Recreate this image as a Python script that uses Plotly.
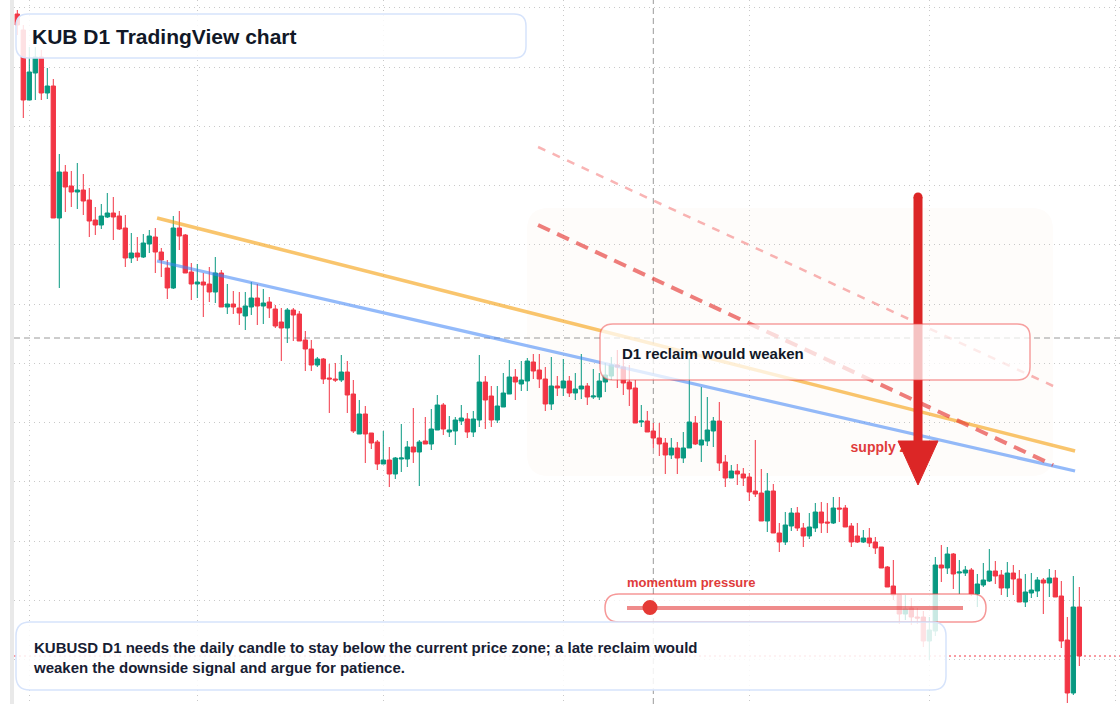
import pandas as pd
import plotly.graph_objects as go

# ---------------- data (KUBUSD daily candles) ----------------
dates = pd.date_range("2025-01-30", periods=178, freq="D")

opens = [
    1.986, 1.970, 1.900, 1.927, 1.943, 1.907, 1.914, 1.782, 1.828, 1.814,
    1.808, 1.810, 1.800, 1.780, 1.775, 1.783, 1.787, 1.784, 1.772, 1.742,
    1.747, 1.743, 1.756, 1.763, 1.748, 1.732, 1.712, 1.772, 1.765, 1.728,
    1.716, 1.718, 1.716, 1.708, 1.727, 1.693, 1.696, 1.692, 1.684, 1.693,
    1.702, 1.694, 1.698, 1.691, 1.678, 1.672, 1.690, 1.686, 1.660, 1.651,
    1.635, 1.641, 1.622, 1.621, 1.620, 1.628, 1.606, 1.566, 1.586, 1.567,
    1.558, 1.536, 1.540, 1.526, 1.541, 1.541, 1.553, 1.548, 1.559, 1.556,
    1.570, 1.595, 1.568, 1.569, 1.579, 1.581, 1.568, 1.580, 1.618, 1.604,
    1.580, 1.593, 1.606, 1.623, 1.616, 1.619, 1.638, 1.630, 1.621, 1.596,
    1.614, 1.612, 1.619, 1.607, 1.611, 1.614, 1.603, 1.603, 1.618, 1.624,
    1.635, 1.633, 1.618, 1.612, 1.578, 1.579, 1.569, 1.562, 1.557, 1.545,
    1.552, 1.542, 1.552, 1.577, 1.555, 1.559, 1.569, 1.579, 1.538, 1.522,
    1.529, 1.526, 1.523, 1.509, 1.507, 1.479, 1.509, 1.467, 1.458, 1.474,
    1.487, 1.472, 1.464, 1.472, 1.488, 1.478, 1.477, 1.492, 1.492, 1.474,
    1.464, 1.458, 1.462, 1.458, 1.453, 1.433, 1.414, 1.405, 1.386, 1.392,
    1.383, 1.383, 1.359, 1.369, 1.435, 1.432, 1.446, 1.427, 1.427, 1.430,
    1.406, 1.415, 1.419, 1.429, 1.425, 1.412, 1.427, 1.421, 1.398, 1.407,
    1.409, 1.420, 1.417, 1.422, 1.404, 1.360, 1.307, 1.393,
]
highs = [
    1.990, 1.975, 1.953, 1.953, 1.950, 1.932, 1.921, 1.846, 1.835, 1.829,
    1.837, 1.826, 1.812, 1.793, 1.796, 1.807, 1.803, 1.789, 1.785, 1.767,
    1.763, 1.766, 1.770, 1.772, 1.752, 1.740, 1.784, 1.789, 1.766, 1.737,
    1.736, 1.727, 1.733, 1.743, 1.730, 1.716, 1.709, 1.708, 1.708, 1.718,
    1.716, 1.711, 1.703, 1.695, 1.692, 1.692, 1.692, 1.689, 1.669, 1.660,
    1.643, 1.642, 1.636, 1.637, 1.645, 1.639, 1.620, 1.600, 1.594, 1.567,
    1.560, 1.569, 1.553, 1.543, 1.576, 1.559, 1.592, 1.560, 1.583, 1.591,
    1.605, 1.597, 1.584, 1.583, 1.595, 1.587, 1.589, 1.645, 1.624, 1.614,
    1.614, 1.627, 1.640, 1.631, 1.639, 1.642, 1.646, 1.646, 1.633, 1.643,
    1.624, 1.641, 1.624, 1.627, 1.646, 1.617, 1.631, 1.627, 1.637, 1.643,
    1.650, 1.643, 1.635, 1.620, 1.595, 1.589, 1.577, 1.577, 1.562, 1.562,
    1.558, 1.568, 1.642, 1.584, 1.613, 1.603, 1.583, 1.598, 1.545, 1.535,
    1.536, 1.532, 1.527, 1.560, 1.531, 1.527, 1.516, 1.477, 1.488, 1.492,
    1.493, 1.477, 1.487, 1.497, 1.498, 1.497, 1.503, 1.503, 1.495, 1.477,
    1.477, 1.470, 1.472, 1.463, 1.453, 1.434, 1.440, 1.405, 1.405, 1.402,
    1.392, 1.389, 1.383, 1.443, 1.455, 1.453, 1.447, 1.440, 1.434, 1.432,
    1.426, 1.437, 1.451, 1.439, 1.430, 1.438, 1.435, 1.430, 1.426, 1.427,
    1.423, 1.422, 1.431, 1.430, 1.419, 1.383, 1.424, 1.413,
]
lows = [
    1.965, 1.882, 1.900, 1.900, 1.900, 1.901, 1.782, 1.712, 1.788, 1.793,
    1.791, 1.785, 1.763, 1.765, 1.771, 1.782, 1.760, 1.770, 1.733, 1.737,
    1.739, 1.742, 1.747, 1.727, 1.723, 1.701, 1.711, 1.750, 1.727, 1.700,
    1.702, 1.683, 1.698, 1.697, 1.693, 1.686, 1.686, 1.675, 1.670, 1.685,
    1.675, 1.676, 1.682, 1.672, 1.639, 1.657, 1.659, 1.659, 1.629, 1.629,
    1.633, 1.616, 1.587, 1.618, 1.618, 1.587, 1.567, 1.566, 1.537, 1.551,
    1.530, 1.536, 1.513, 1.521, 1.528, 1.533, 1.537, 1.514, 1.556, 1.550,
    1.570, 1.565, 1.563, 1.555, 1.575, 1.562, 1.563, 1.573, 1.571, 1.573,
    1.577, 1.593, 1.606, 1.600, 1.609, 1.609, 1.621, 1.612, 1.589, 1.590,
    1.604, 1.604, 1.603, 1.600, 1.601, 1.595, 1.601, 1.600, 1.608, 1.620,
    1.612, 1.605, 1.594, 1.577, 1.573, 1.568, 1.552, 1.544, 1.526, 1.541,
    1.526, 1.537, 1.552, 1.555, 1.538, 1.554, 1.553, 1.529, 1.513, 1.522,
    1.515, 1.514, 1.499, 1.503, 1.479, 1.468, 1.467, 1.448, 1.455, 1.469,
    1.469, 1.453, 1.461, 1.468, 1.467, 1.467, 1.476, 1.478, 1.473, 1.453,
    1.457, 1.457, 1.453, 1.446, 1.432, 1.413, 1.400, 1.376, 1.380, 1.375,
    1.376, 1.353, 1.340, 1.364, 1.418, 1.426, 1.411, 1.406, 1.424, 1.404,
    1.393, 1.413, 1.418, 1.416, 1.405, 1.403, 1.405, 1.398, 1.393, 1.402,
    1.403, 1.386, 1.403, 1.403, 1.352, 1.297, 1.305, 1.334,
]
closes = [
    1.975, 1.900, 1.928, 1.943, 1.907, 1.914, 1.782, 1.828, 1.813, 1.808,
    1.810, 1.799, 1.779, 1.775, 1.784, 1.787, 1.783, 1.771, 1.742, 1.747,
    1.743, 1.757, 1.764, 1.748, 1.740, 1.712, 1.772, 1.764, 1.727, 1.716,
    1.718, 1.715, 1.708, 1.727, 1.693, 1.696, 1.693, 1.687, 1.694, 1.702,
    1.694, 1.697, 1.692, 1.674, 1.672, 1.690, 1.685, 1.659, 1.651, 1.635,
    1.641, 1.621, 1.621, 1.620, 1.628, 1.605, 1.569, 1.586, 1.566, 1.557,
    1.536, 1.540, 1.526, 1.542, 1.542, 1.553, 1.548, 1.558, 1.556, 1.571,
    1.595, 1.571, 1.570, 1.580, 1.582, 1.568, 1.581, 1.618, 1.600, 1.580,
    1.594, 1.607, 1.623, 1.618, 1.620, 1.639, 1.629, 1.621, 1.596, 1.614,
    1.612, 1.619, 1.607, 1.611, 1.614, 1.603, 1.604, 1.619, 1.625, 1.635,
    1.633, 1.617, 1.611, 1.577, 1.579, 1.568, 1.562, 1.556, 1.545, 1.552,
    1.542, 1.552, 1.578, 1.556, 1.560, 1.570, 1.579, 1.537, 1.522, 1.529,
    1.526, 1.522, 1.508, 1.506, 1.479, 1.509, 1.467, 1.458, 1.475, 1.487,
    1.472, 1.464, 1.473, 1.488, 1.477, 1.477, 1.492, 1.491, 1.473, 1.458,
    1.458, 1.462, 1.457, 1.452, 1.432, 1.413, 1.405, 1.386, 1.391, 1.383,
    1.382, 1.359, 1.370, 1.435, 1.432, 1.446, 1.426, 1.428, 1.430, 1.406,
    1.416, 1.420, 1.429, 1.424, 1.412, 1.427, 1.421, 1.398, 1.408, 1.410,
    1.420, 1.417, 1.422, 1.403, 1.359, 1.307, 1.393, 1.344,
]

# chart drawings (dates / prices)
orange_trend = (["2025-02-22 07:00", "2025-07-25 07:00"], [1.782, 1.549])
blue_trend = (["2025-02-22 07:00", "2025-07-25 07:00"], [1.739, 1.529])
red_channel_low = (["2025-04-26 19:00", "2025-07-21 15:00"], [1.775, 1.535])
red_channel_high = (["2025-04-26 19:00", "2025-07-21 15:00"], [1.853, 1.614])
crosshair_price = 1.662
crosshair_date = "2025-05-16"
last_price = closes[-1]
grid_prices = [1.9922, 1.9330, 1.8737, 1.8145, 1.7552, 1.6960,
               1.6368, 1.5775, 1.5183, 1.4590, 1.3998, 1.3406]

GREEN = "#089981"
RED = "#f23645"
FONT = "Liberation Sans, Arial, sans-serif"

# ---------------- layout helpers (pixel -> paper) ----------------
W, H, LM = 1120, 704, 14


def fx(x):
    return (x - LM) / (W - LM)


def fy(y):
    return 1 - y / H


def rrect(x0, y0, x1, y1, r):
    pts = [
        f"M{fx(x0 + r)},{fy(y0)}",
        f"L{fx(x1 - r)},{fy(y0)}",
        f"Q{fx(x1)},{fy(y0)} {fx(x1)},{fy(y0 + r)}",
        f"L{fx(x1)},{fy(y1 - r)}",
        f"Q{fx(x1)},{fy(y1)} {fx(x1 - r)},{fy(y1)}",
        f"L{fx(x0 + r)},{fy(y1)}",
        f"Q{fx(x0)},{fy(y1)} {fx(x0)},{fy(y1 - r)}",
        f"L{fx(x0)},{fy(y0 + r)}",
        f"Q{fx(x0)},{fy(y0)} {fx(x0 + r)},{fy(y0)}",
        "Z",
    ]
    return " ".join(pts)


fig = go.Figure()

# trend lines (under candles)
fig.add_trace(go.Scatter(x=orange_trend[0], y=orange_trend[1], mode="lines",
                         line=dict(color="rgba(245,158,11,0.6)", width=3.5),
                         hoverinfo="skip", showlegend=False))
fig.add_trace(go.Scatter(x=blue_trend[0], y=blue_trend[1], mode="lines",
                         line=dict(color="rgba(59,130,246,0.55)", width=3.2),
                         hoverinfo="skip", showlegend=False))
fig.add_trace(go.Scatter(x=red_channel_low[0], y=red_channel_low[1], mode="lines",
                         line=dict(color="rgba(229,57,53,0.65)", width=4, dash="13px,8px"),
                         hoverinfo="skip", showlegend=False))
fig.add_trace(go.Scatter(x=red_channel_high[0], y=red_channel_high[1], mode="lines",
                         line=dict(color="rgba(239,68,68,0.4)", width=2.5, dash="8px,8px"),
                         hoverinfo="skip", showlegend=False))

fig.add_trace(go.Candlestick(
    x=dates, open=opens, high=highs, low=lows, close=closes,
    increasing=dict(line=dict(color=GREEN, width=1), fillcolor=GREEN),
    decreasing=dict(line=dict(color=RED, width=1), fillcolor=RED),
    whiskerwidth=0, hoverinfo="skip", showlegend=False,
))

# supply zone label (sits under the arrow head)
fig.add_trace(go.Scatter(
    x=["2025-06-17 21:00"], y=[1.552], mode="text",
    text=["<b>supply zone</b>"], textposition="middle right",
    textfont=dict(size=14, color="#e03b3b", family=FONT),
    hoverinfo="skip", showlegend=False,
))

shapes = []
# left edge strip
shapes.append(dict(type="rect", xref="paper", yref="paper", x0=fx(10), x1=fx(14),
                   y0=0, y1=1, fillcolor="#e9e9e9", line=dict(width=0), layer="above"))
# shaded zone
shapes.append(dict(type="path", xref="paper", yref="paper", path=rrect(527, 208, 1053, 476, 22),
                   fillcolor="#fefcfa", line=dict(width=0), layer="between"))
# crosshair
shapes.append(dict(type="line", xref="paper", yref="y", x0=0, x1=1,
                   y0=crosshair_price, y1=crosshair_price,
                   line=dict(color="#9a9a9a", width=1, dash="6px,4px"), layer="between"))
shapes.append(dict(type="line", xref="x", yref="paper", x0=crosshair_date, x1=crosshair_date,
                   y0=0, y1=1, line=dict(color="#9a9a9a", width=1, dash="6px,4px"), layer="between"))
# last price line
shapes.append(dict(type="line", xref="paper", yref="y", x0=0, x1=1,
                   y0=last_price, y1=last_price,
                   line=dict(color=RED, width=1, dash="2px,3px"), layer="between"))
# big arrow
shapes.append(dict(type="line", xref="paper", yref="paper", x0=fx(918), x1=fx(918),
                   y0=fy(197), y1=fy(445), line=dict(color="#dc2626", width=9), layer="above"))
shapes.append(dict(type="circle", xref="paper", yref="paper", x0=fx(913.5), x1=fx(922.5),
                   y0=fy(192.5), y1=fy(201.5), fillcolor="#dc2626", line=dict(width=0), layer="above"))
shapes.append(dict(type="path", xref="paper", yref="paper",
                   path=f"M{fx(898)},{fy(441)} L{fx(938)},{fy(441)} L{fx(918)},{fy(485)} Z",
                   fillcolor="#dc2626", line=dict(color="#dc2626", width=1), layer="above"))
# title box
shapes.append(dict(type="path", xref="paper", yref="paper", path=rrect(16, 14, 526, 58, 12),
                   fillcolor="rgba(255,255,255,0.85)", line=dict(color="#d6e3fb", width=1.5), layer="above"))
# reclaim box
shapes.append(dict(type="path", xref="paper", yref="paper", path=rrect(600, 324, 1030, 380, 13),
                   fillcolor="rgba(255,255,255,0.72)", line=dict(color="rgba(239,68,68,0.5)", width=1.5),
                   layer="above"))
# momentum slider
shapes.append(dict(type="path", xref="paper", yref="paper", path=rrect(605, 594, 986, 622, 14),
                   fillcolor="rgba(255,255,255,0.78)", line=dict(color="rgba(239,68,68,0.55)", width=1.5),
                   layer="above"))
shapes.append(dict(type="line", xref="paper", yref="paper", x0=fx(627), x1=fx(963),
                   y0=fy(608), y1=fy(608), line=dict(color="rgba(229,62,62,0.6)", width=4), layer="above"))
shapes.append(dict(type="circle", xref="paper", yref="paper", x0=fx(642.5), x1=fx(657.5),
                   y0=fy(600), y1=fy(615), fillcolor="#e53935", line=dict(width=0), layer="above"))
# bottom note box
shapes.append(dict(type="path", xref="paper", yref="paper", path=rrect(16, 622, 946, 690, 14),
                   fillcolor="rgba(255,255,255,0.86)", line=dict(color="#d6e3fb", width=1.5), layer="above"))

annotations = [
    dict(xref="paper", yref="paper", x=fx(30), y=fy(36), xanchor="left", yanchor="middle",
         text="<b>KUB D1 TradingView chart</b>", showarrow=False,
         font=dict(size=21, color="#111827", family=FONT)),
    dict(xref="paper", yref="paper", x=fx(620), y=fy(353), xanchor="left", yanchor="middle",
         text="<b>D1 reclaim would weaken</b>", showarrow=False,
         font=dict(size=15, color="#111827", family=FONT)),
    dict(xref="paper", yref="paper", x=fx(625), y=fy(582), xanchor="left", yanchor="middle",
         text="<b>momentum pressure</b>", showarrow=False,
         font=dict(size=13, color="#e03b3b", family=FONT)),
    dict(xref="paper", yref="paper", x=fx(31), y=fy(657), xanchor="left", yanchor="middle",
         align="left",
         text="<b>KUBUSD D1 needs the daily candle to stay below the current price zone; a late reclaim would"
              "<br>weaken the downside signal and argue for patience.</b>",
         showarrow=False, font=dict(size=15, color="#172033", family=FONT)),
]

fig.update_layout(
    width=W, height=H,
    margin=dict(l=LM, r=0, t=0, b=0),
    paper_bgcolor="white", plot_bgcolor="white",
    showlegend=False,
    boxgap=0.28, boxgroupgap=0,
    shapes=shapes, annotations=annotations,
    font=dict(family=FONT),
    xaxis=dict(type="date", range=["2025-01-29 10:48", "2025-08-01 18:43"],
               rangeslider=dict(visible=False), showticklabels=False,
               showgrid=True, gridcolor="#c9c9c9", griddash="1px,4px", gridwidth=1,
               dtick="M1", tick0="2025-02-01", zeroline=False, showline=False, ticks=""),
    yaxis=dict(range=[1.296, 2.000], showticklabels=False, tickvals=grid_prices,
               showgrid=True, gridcolor="#c9c9c9", griddash="1px,4px", gridwidth=1,
               zeroline=False, showline=False, ticks=""),
)

fig.write_html("out.html")
